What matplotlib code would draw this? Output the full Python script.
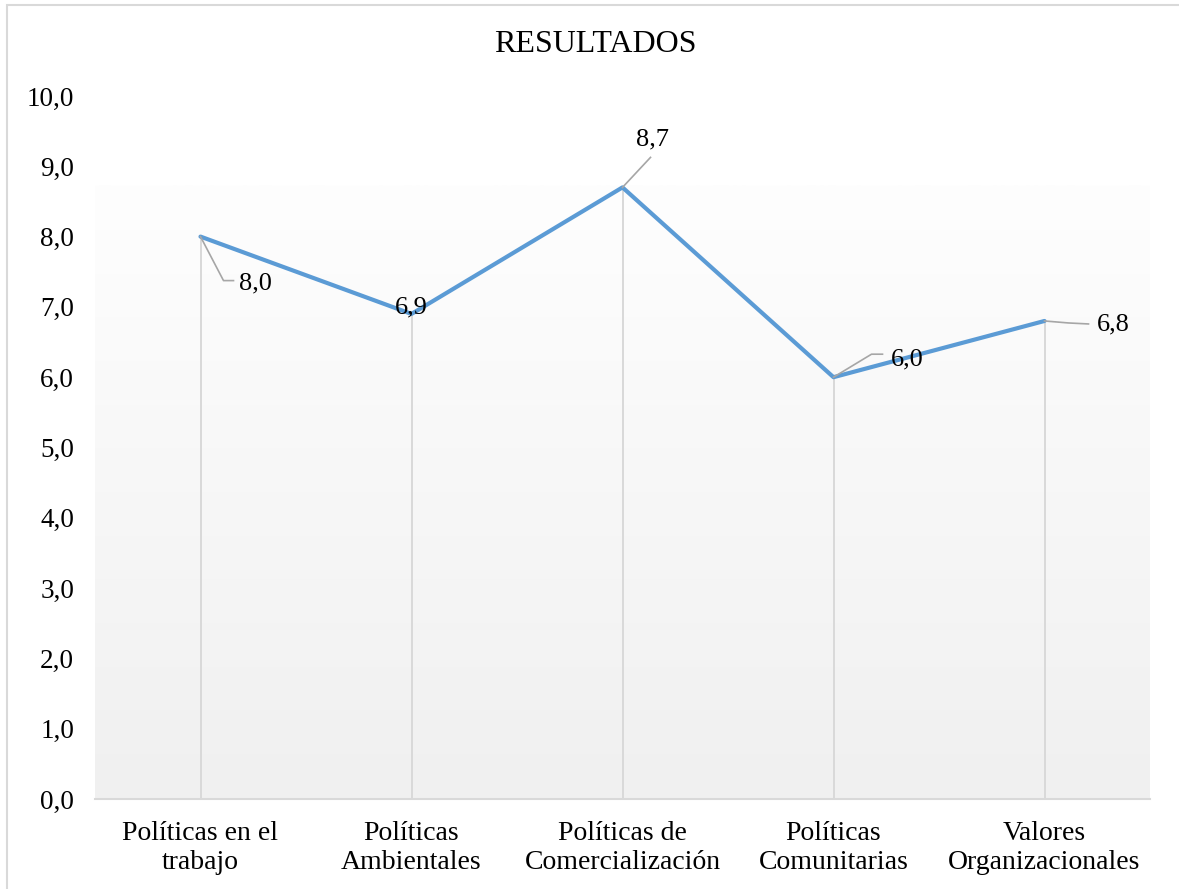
import matplotlib
matplotlib.use("Agg")
import matplotlib.pyplot as plt
import numpy as np
from matplotlib import transforms
from matplotlib.patches import Rectangle
from matplotlib.colors import LinearSegmentedColormap

categories = ["Políticas en el\ntrabajo", "Políticas\nAmbientales", "Políticas de\nComercialización",
              "Políticas\nComunitarias", "Valores\nOrganizacionales"]
values = [8.0, 6.9, 8.7, 6.0, 6.8]
yticks = [0, 1, 2, 3, 4, 5, 6, 7, 8, 9, 10]
title = "RESULTADOS"

plt.rcParams['font.family'] = ['Liberation Serif', 'DejaVu Serif']

W, H = 1179, 889
fig = plt.figure(figsize=(W / 100, H / 100), dpi=100)
ax = fig.add_axes([95 / W, (H - 799) / H, (1150 - 95) / W, (799 - 96) / H])

x = np.arange(len(categories))
ax.set_xlim(-0.5, len(categories) - 0.5)
ax.set_ylim(0, 10)

# gradient plot-area background
grad = np.linspace(0, 1, 256).reshape(-1, 1)
cmap = LinearSegmentedColormap.from_list("g", ["#f0f0f0", "#fefefe"])
ax.imshow(grad, cmap=cmap, aspect='auto', origin='lower',
          extent=[0, 1, 0, 0.872], transform=ax.transAxes, zorder=0)

# drop lines
ax.vlines(x, 0, values, color="#d9d9d9", lw=1.4, zorder=1)
ax.plot(x, values, color="#5B9BD5", lw=3.0, zorder=3, solid_capstyle='round', solid_joinstyle='round')

# data labels with leader lines (offsets in pixels)
label_cfg = [
    dict(path=[(0, 0), (23, -44), (33, -44)], txt=(38, -47), ha='left'),
    dict(path=None, txt=(0, 6), ha='center'),
    dict(path=[(0, 0), (28, 30)], txt=(30, 48), ha='center'),
    dict(path=[(0, 0), (38, 23), (49, 23)], txt=(57, 18), ha='left'),
    dict(path=[(0, 0), (24, -2), (44, -3)], txt=(52, -3), ha='left'),
]
for xi, v, cfg in zip(x, values, label_cfg):
    if cfg['path']:
        base = ax.transData.transform((xi, v))
        pts = [fig.transFigure.inverted().transform((base[0] + a, base[1] + b)) for a, b in cfg['path']]
        fig.add_artist(plt.Line2D([p[0] for p in pts], [p[1] for p in pts],
                                  transform=fig.transFigure, color="#a6a6a6", lw=1.2, zorder=2))
    t = transforms.offset_copy(ax.transData, fig=fig, x=cfg['txt'][0], y=cfg['txt'][1], units='dots')
    ax.text(xi, v, f"{v:.1f}".replace('.', ','), transform=t, ha=cfg['ha'], va='center',
            fontsize=19, color='black', zorder=4)

ax.set_xticks(x)
ax.set_xticklabels(categories, fontsize=20, linespacing=1.2)
ax.set_yticks(yticks)
ax.set_yticklabels([f"{t:.1f}".replace('.', ',') for t in yticks], fontsize=19.5)
ax.tick_params(axis='both', length=0)
ax.tick_params(axis='y', pad=15)
ax.tick_params(axis='x', pad=16)
for s in ['top', 'right', 'left']:
    ax.spines[s].set_visible(False)
ax.spines['bottom'].set_color('#d9d9d9')
ax.spines['bottom'].set_linewidth(1.5)
ax.spines['bottom'].set_zorder(2)
ax.patch.set_visible(False)

fig.text(595 / W, (H - 45) / H, title, ha='center', va='center', fontsize=23)

# chart border
fig.add_artist(Rectangle((7 / W, -0.1), 1.2, (H - 5) / H + 0.1, transform=fig.transFigure,
                         fill=False, edgecolor='#d9d9d9', lw=1.5))

fig.savefig("out.png", dpi=100)
